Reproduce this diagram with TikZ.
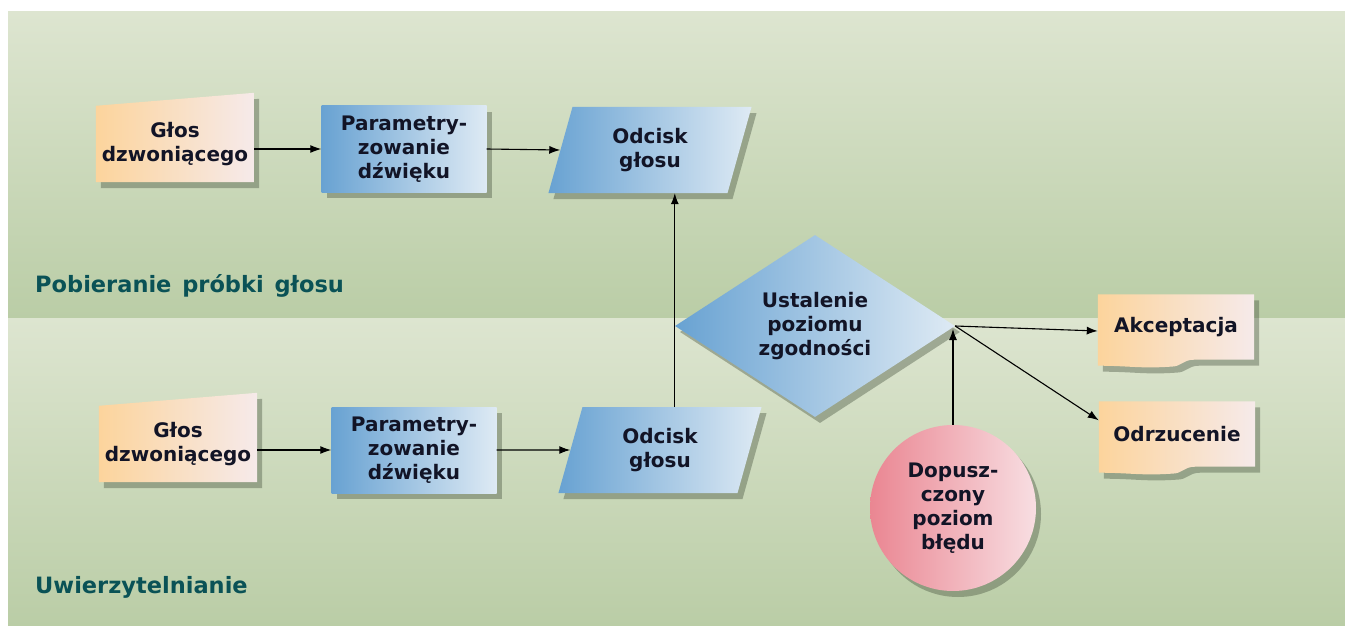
\documentclass[tikz,border=0pt]{standalone}
\usepackage{fontspec}
\setmainfont{DejaVu Sans}
\usetikzlibrary{shapes.geometric,shadows,arrows.meta,backgrounds,calc}
\pgfdeclarelayer{bands}
\pgfsetlayers{bands,background,main}

\definecolor{orangeL}{RGB}{252,212,156}
\definecolor{orangeR}{RGB}{246,234,234}
\definecolor{blueL}{RGB}{104,162,210}
\definecolor{blueR}{RGB}{222,234,244}
\definecolor{pinkL}{RGB}{234,134,146}
\definecolor{pinkR}{RGB}{248,222,226}
\definecolor{bandtop}{RGB}{221,229,208}
\definecolor{bandbot}{RGB}{186,205,166}
\definecolor{labelteal}{RGB}{10,82,86}
\definecolor{textnavy}{RGB}{18,20,38}
\definecolor{shadowgray}{RGB}{70,82,62}

\tikzset{
  boxtext/.style={font=\fontsize{20}{24}\selectfont\bfseries, text=textnavy, align=center, inner sep=0pt},
  shad/.style={drop shadow={shadow xshift=5pt, shadow yshift=-6pt, fill=shadowgray, opacity=.4}},
  inputbox/.style={boxtext, minimum width=158, minimum height=76},
  parambox/.style={boxtext, rectangle, minimum width=165, minimum height=86, left color=blueL, right color=blueR, shad},
  printbox/.style={boxtext, trapezium, trapezium left angle=75, trapezium right angle=105,
    trapezium stretches=true, minimum width=204, minimum height=86, left color=blueL, right color=blueR, shad},
  decisionbox/.style={boxtext, diamond, minimum width=280, minimum height=182, left color=blueL, right color=blueR, shad},
  levelbox/.style={boxtext, circle, minimum size=166, left color=pinkL, right color=pinkR, shad},
  resultbox/.style={boxtext, minimum width=156, minimum height=65},
  grouplabel/.style={font=\fontsize{22.5}{26}\selectfont\bfseries, text=labelteal, anchor=base west, inner sep=0pt},
  arr/.style={-{Latex[length=11pt,width=8pt]}, line width=1.1pt, black}
}

\begin{document}
\begin{tikzpicture}[x=1pt,y=-1pt]
\useasboundingbox (0,0) rectangle (1345,626);

\begin{pgfonlayer}{bands}
\fill[white] (0,0) rectangle (1345,626);
\shade[top color=bandtop, bottom color=bandbot] (8,12) rectangle (1345,318);
\shade[top color=bandtop, bottom color=bandbot] (8,318) rectangle (1345,626);
\end{pgfonlayer}

% sampling
\node[inputbox] (g1) at (175,144) {Głos\\dzwoniącego};
\node[parambox] (p1) at (404,149) {Parametry-\\zowanie\\dźwięku};
\node[printbox] (o1) at (650,150) {Odcisk\\głosu};
\node[grouplabel] (lab1) at (35,292) {Pobieranie\hspace{3pt} próbki\hspace{3pt} głosu};

% verification
\node[inputbox] (g2) at (178,444) {Głos\\dzwoniącego};
\node[parambox] (p2) at (414,450) {Parametry-\\zowanie\\dźwięku};
\node[printbox] (o2) at (660,450) {Odcisk\\głosu};
\node[grouplabel] (lab2) at (35,593) {Uwierzytelnianie};

\node[decisionbox] (dia) at (815,326) {Ustalenie\\poziomu\\zgodności};
\node[levelbox] (dop) at (953,508) {Dopusz-\\czony\\poziom\\błędu};
\node[resultbox] (acc) at (1176,327) {Akceptacja};
\node[resultbox] (odr) at (1177,434) {Odrzucenie};

\begin{scope}[on background layer]
\foreach \n in {g1,g2}
  \path[shad, left color=orangeL, right color=orangeR]
    (\n.south west) -- (\n.north west) -- ($(\n.north east)+(0,-13)$) -- (\n.south east) -- cycle;
\foreach \n in {acc,odr}
  \path[shad, left color=orangeL, right color=orangeR]
    (\n.north west) -- (\n.north east) -- (\n.south east) -- ++(-60,0)
    .. controls +(-12,0) and +(12,0) .. ++(-24,7)
    .. controls +(-30,2) and +(30,0) .. ($(\n.south west)+(0,6)$) -- cycle;
\end{scope}

\draw[arr] (g1.east |- p1) -- (p1.west);
\draw[arr] (p1.east) -- (o1.west);
\draw[arr] (g2.east |- p2) -- (p2.west);
\draw[arr] (p2.east) -- (o2.west);
\draw[arr] (o2.north -| dia.west) -- (o1.south -| dia.west);
\draw[arr] (dia.east) -- ($(acc.west)+(0,4)$);
\draw[arr] (dia.east) -- ($(odr.north west)+(0,19)$);
\draw[arr] (dop.north) -- ($(dop.north |- dia.east)+(0,3)$);
\end{tikzpicture}
\end{document}
